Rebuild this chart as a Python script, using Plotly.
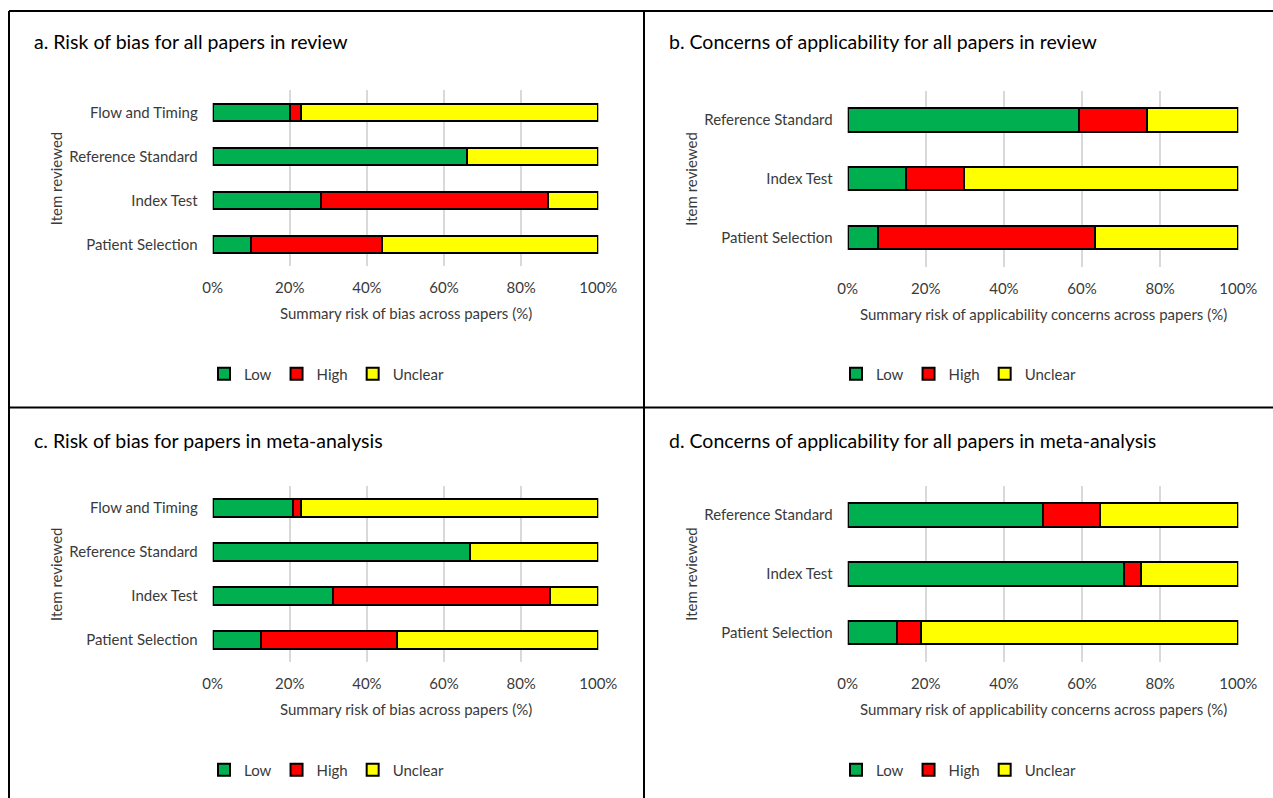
import plotly.graph_objects as go

W, H = 1273, 798

# ---------------- data ----------------
rob_categories = ["Patient Selection", "Index Test", "Reference Standard", "Flow and Timing"]
app_categories = ["Patient Selection", "Index Test", "Reference Standard"]
series_names = ["Low", "High", "Unclear"]
series_colors = ["#00B050", "#FF0000", "#FFFF00"]

a_low = [10, 28, 66, 20]
a_high = [34, 59, 0, 3]
a_unclear = [56, 13, 34, 77]

b_low = [7.8, 14.8, 59.3]
b_high = [55.5, 14.9, 17.2]
b_unclear = [36.7, 70.3, 23.5]

c_low = [12.5, 31.25, 66.7, 20.8]
c_high = [35.4, 56.25, 0, 2.1]
c_unclear = [52.1, 12.5, 33.3, 77.1]

d_low = [12.5, 70.8, 50.0]
d_high = [6.25, 4.2, 14.6]
d_unclear = [81.25, 25.0, 35.4]

tick_values = [0, 20, 40, 60, 80, 100]
tick_labels = ["0%", "20%", "40%", "60%", "80%", "100%"]

panel_titles = [
    "a. Risk of bias for all papers in review",
    "b. Concerns of applicability for all papers in review",
    "c. Risk of bias for papers in meta-analysis",
    "d. Concerns of applicability for all papers in meta-analysis",
]
x_titles = [
    "Summary risk of bias across papers (%)",
    "Summary risk of applicability concerns across papers (%)",
    "Summary risk of bias across papers (%)",
    "Summary risk of applicability concerns across papers (%)",
]
y_title = "Item reviewed"

FONT = "Lato, 'Open Sans', sans-serif"
TXT = "#3a3a3a"

panels = [
    (rob_categories, [a_low, a_high, a_unclear]),
    (app_categories, [b_low, b_high, b_unclear]),
    (rob_categories, [c_low, c_high, c_unclear]),
    (app_categories, [d_low, d_high, d_unclear]),
]

# pixel geometry: (plot x0, x1, plot y0 top, y1 bottom, panel x0, panel x1, title y, legend y)
geom = [
    (212.7, 598.3, 90.3, 266.3, 9, 644, 42, 374),
    (847.7, 1238.3, 90.7, 266.7, 644, 1273, 42, 374),
    (212.7, 598.3, 486.0, 662.0, 9, 644, 440, 770),
    (847.7, 1238.3, 485.6, 662.0, 644, 1273, 440, 770),
]

def px(x):
    return x / W

def py(y):
    return 1 - y / H

fig = go.Figure()
annotations = []
layout_axes = {}

for i, ((cats, vals), g) in enumerate(zip(panels, geom)):
    n = i + 1
    xa = "x" if n == 1 else f"x{n}"
    ya = "y" if n == 1 else f"y{n}"
    lg = "legend" if n == 1 else f"legend{n}"
    for name, color, v in zip(series_names, series_colors, vals):
        fig.add_trace(go.Bar(
            y=cats, x=v, orientation="h", name=name,
            marker=dict(color=color, line=dict(color="black", width=2)),
            xaxis=xa, yaxis=ya, legend=lg, hoverinfo="skip",
        ))
    x0, x1, y0, y1, p0, p1, ty, ly = g
    xkey = "xaxis" if n == 1 else f"xaxis{n}"
    ykey = "yaxis" if n == 1 else f"yaxis{n}"
    layout_axes[xkey] = dict(
        domain=[px(x0), px(x1)], anchor=ya, range=[0, 100],
        tickvals=tick_values, ticktext=tick_labels,
        showgrid=True, gridcolor="#D9D9D9", gridwidth=2,
        zeroline=False, showline=False, ticks="", automargin=False,
        tickfont=dict(family=FONT, size=15, color=TXT),
        ticklabelstandoff=11, fixedrange=True,
    )
    layout_axes[ykey] = dict(
        domain=[py(y1), py(y0)], anchor=xa, range=[-0.5, len(cats) - 0.5],
        categoryorder="array", categoryarray=cats,
        showgrid=False, zeroline=False, showline=False, ticks="", automargin=False,
        tickfont=dict(family=FONT, size=15, color=TXT),
        ticklabelstandoff=14, fixedrange=True,
    )
    layout_axes[lg] = dict(
        orientation="h", x=px((p0 + p1) / 2), xanchor="center",
        y=py(ly), yanchor="middle", traceorder="normal",
        font=dict(family=FONT, size=15, color=TXT),
        itemwidth=30, bgcolor="rgba(0,0,0,0)",
    )
    annotations.append(dict(
        text=panel_titles[i], x=px(p0 + 23), y=py(ty), xref="paper", yref="paper",
        xanchor="left", yanchor="middle", showarrow=False,
        font=dict(family=FONT, size=19.5, color="#000000"),
    ))
    annotations.append(dict(
        text=x_titles[i], x=px((x0 + x1) / 2), y=py(y1 + 47), xref="paper", yref="paper",
        xanchor="center", yanchor="middle", showarrow=False,
        font=dict(family=FONT, size=15, color=TXT),
    ))
    annotations.append(dict(
        text=y_title, x=px(p0 + 47), y=py((y0 + y1) / 2), xref="paper", yref="paper",
        xanchor="center", yanchor="middle", showarrow=False, textangle=-90,
        font=dict(family=FONT, size=15, color=TXT),
    ))

border = dict(color="black", width=2)
shapes = [
    dict(type="line", xref="paper", yref="paper", x0=px(9), x1=1, y0=py(11), y1=py(11), line=border),
    dict(type="line", xref="paper", yref="paper", x0=px(9), x1=px(9), y0=py(11), y1=0, line=border),
    dict(type="line", xref="paper", yref="paper", x0=px(644), x1=px(644), y0=py(11), y1=0, line=border),
    dict(type="line", xref="paper", yref="paper", x0=px(9), x1=1, y0=py(407.5), y1=py(407.5), line=border),
]

fig.update_layout(
    width=W, height=H, autosize=False,
    margin=dict(l=0, r=0, t=0, b=0, pad=0, autoexpand=False),
    paper_bgcolor="white", plot_bgcolor="white",
    barmode="stack", bargap=0.6,
    annotations=annotations, shapes=shapes,
    font=dict(family=FONT, color=TXT),
    **layout_axes,
)

fig.write_html("out.html", config={"displayModeBar": False})
